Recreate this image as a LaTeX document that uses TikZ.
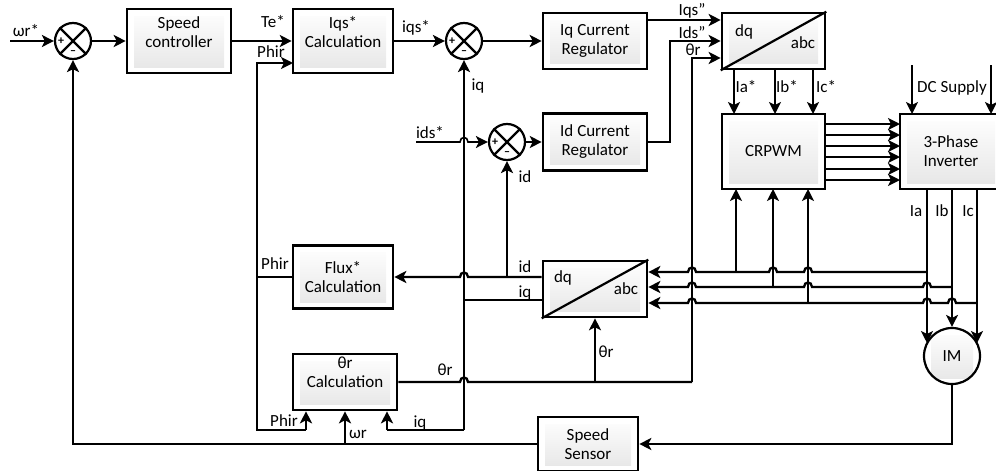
\documentclass[tikz,border=0pt]{standalone}
\usepackage{fontspec}
\setmainfont{Carlito}
\usetikzlibrary{arrows.meta,calc}
% hop of a wire running leftwards over a vertical wire at (#1,#2)
\newcommand{\hop}[2]{-- (#1+4,#2) .. controls (#1+4,#2-6) and (#1-4,#2-6) .. (#1-4,#2)}
\tikzset{
  block/.style={
    shape = rectangle,
    draw,
    line width=2.6pt,
    inner sep = 0pt,
    align=center,
    minimum width=#1,
    path picture={
      \shade[top color=white,bottom color=black!10]
        ($(path picture bounding box.north west)+(7,7)$) rectangle
        ($(path picture bounding box.south east)+(-7,-6)$);
    }
  },
  sumnode/.style={
    shape = circle,
    draw,
    fill=white,
    line width=2.2pt,
    inner sep = 0pt,
    minimum size=36pt
  },
  tag/.style={
    inner sep = 0pt,
    align=center
  },
  wire/.style={
    line width=2.3pt
  },
  thinwire/.style={
    line width=1.6pt
  },
  flow/.style={
    wire,
    -{Stealth[length=12pt,width=12pt,inset=3pt]}
  },
  thinflow/.style={
    thinwire,
    -{Stealth[length=12pt,width=12pt,inset=3pt]}
  },
  every picture/.style = {
    font=\fontsize{17}{19}\selectfont
  }
}
\begin{document}
\begin{tikzpicture}[x=1pt,y=-1pt]
  \useasboundingbox (0,0) rectangle (996,471);
  % blocks
  \node[block=104pt,minimum height=64pt] (spd) at (179,41) {};
  \node[block=100pt,minimum height=64pt] (iqc) at (343,41) {};
  \node[block=104pt,minimum height=56pt] (iqr) at (595,41) {Iq Current\\Regulator};
  \node[block=104pt,minimum height=57pt] (idr) at (595,142) {Id Current\\Regulator};
  \node[block=103pt,minimum height=56pt] (dqa) at (773.5,41) {};
  \node[block=103pt,minimum height=75pt] (pwm) at (773.5,151.5) {CRPWM};
  \node[block=102pt,minimum height=75pt] (inv) at (951,151.5) {3-Phase\\Inverter};
  \node[block=104pt,minimum height=56pt] (dqb) at (595,289) {};
  \node[block=100pt,minimum height=63pt] (flx) at (343,277) {Flux*\\Calculation};
  \node[block=104pt,minimum height=56pt] (thc) at (345,382) {};
  \node[block=100pt,minimum height=54pt] (sns) at (588,444) {Speed\\Sensor};
  \node[block=56pt,shape=circle,line width=2.2pt,minimum size=56pt] (im) at (952,356) {IM};
  \node[sumnode] (sw) at (73,41) {};
  \node[sumnode] (si) at (464,41) {};
  \node[sumnode] (sd) at (507,142) {};
  \foreach \s in {sw,si,sd}{
    \draw[line width=2.2pt] (\s.45)--(\s.225) (\s.135)--(\s.315);
    \node[tag,font=\fontsize{12}{12}\selectfont\bfseries] (\s p) at ($(\s)+(-12,0)$) {+};
    \node[tag,font=\fontsize{12}{12}\selectfont\bfseries] (\s m) at ($(\s)+(0,12)$) {--};
  }
  % block texts set above the middle
  \node[tag] (spdt) at ($(spd)+(0,-9)$) {Speed\\controller};
  \node[tag] (iqct) at ($(iqc)+(0,-9)$) {Iqs*\\Calculation};
  \node[tag] (thct) at ($(thc)+(0,-9.5)$) {θr\\Calculation};
  \draw[line width=2.2pt] (dqa.south west)--(dqa.north east);
  \draw[line width=2.2pt] (dqb.south west)--(dqb.north east);
  \node[tag] (dqa1) at (744,32) {dq};
  \node[tag] (dqa2) at (803,43) {abc};
  \node[tag] (dqb1) at (563,278) {dq};
  \node[tag] (dqb2) at (626,289) {abc};
  % free ends and corners
  \coordinate (wref) at (10,41);
  \coordinate (idsr) at (416,142);
  \coordinate (phi1) at (257,63);
  \coordinate (phi2) at (257,277);
  \coordinate (phi3) at (257,430);
  \coordinate (phi4) at (306,430);
  \coordinate (phi5) at (293,63);
  \coordinate (iqv1) at (464,300);
  \coordinate (iqv2) at (464,430);
  \coordinate (iqv3) at (387,430);
  \coordinate (thv) at (692,382);
  \coordinate (thb) at (595,382);
  \coordinate (idj) at (507,277);
  \coordinate (fbk) at (73,444);
  \coordinate (wrj) at (345,444);
  \coordinate (imj) at (952,444);
  % forward path
  \draw[flow] (wref) -- (sw);
  \draw[flow] (sw) -- (spd);
  \draw[flow,line width=1.8pt] (spd) -- (iqc);
  \draw[flow] (iqc) -- (si);
  \draw[flow] (si) -- (iqr);
  \draw[thinflow] (sd) -- (idr);
  \draw[thinwire,{Stealth[length=12pt,width=12pt,inset=3pt]}-] (sd.west) \hop{464}{142} -- (idsr);
  \draw[flow] (iqr.east |- 0,20) -- (dqa.west |- 0,20);
  \draw[flow] (idr) -- (670,142) -- (670,41) -- (dqa.west |- 0,41);
  \draw[flow] (thv) -- (692,58) -- (dqa.west |- 0,58);
  \foreach \x in {734,775,813}{
    \draw[flow] (\x,69) -- (\x,114);
  }
  \foreach \y in {124,135,146,157,169,180}{
    \draw[flow] (825,\y) -- (900,\y);
  }
  \foreach \x in {912,991}{
    \draw[thinflow] (\x,65) -- (\x,114);
  }
  % phi r
  \draw[flow] (phi2) -- (phi1) -- (phi5);
  \draw[wire] (flx) -- (phi2) -- (phi3) -- (phi4);
  \draw[flow] (phi4) -- (thc.south -| phi4);
  % id, iq
  \draw[flow] (dqb.west |- 0,277) -- (idj) \hop{464}{277} -- (flx.east);
  \draw[flow] (idj) -- (sd);
  \draw[thinwire] (dqb.west |- 0,300) -- (iqv1);
  \draw[flow] (iqv2) -- (si);
  \draw[wire] (iqv2) -- (iqv3);
  \draw[flow] (iqv3) -- (thc.south -| iqv3);
  % theta r
  \draw[wire] (thv) -- (thb) \hop{464}{382} -- (thc.east);
  \draw[flow,line width=1.8pt] (thb) -- (dqb.south -| thb);
  % measured currents
  \draw[flow] (927,272) \hop{808}{272} \hop{773}{272} \hop{692}{272} -- (dqb.east |- 0,272);
  \draw[flow] (952,287) \hop{927}{287} \hop{808}{287} \hop{692}{287} -- (dqb.east |- 0,287);
  \draw[flow] (977,303) \hop{952}{303} \hop{927}{303} \hop{692}{303} -- (dqb.east |- 0,303);
  \draw[flow] (736,272) -- (736,189);
  \draw[flow] (773,287) -- (773,189);
  \draw[flow] (808,303) -- (808,189);
  \draw[thinflow] (927,189) -- (927,343);
  \draw[thinflow] (952,189) -- (im.north);
  \draw[thinflow] (977,189) -- (977,343);
  % speed feedback
  \draw[flow] (im) -- (imj) -- (sns.east |- imj);
  \draw[flow] (sns.west |- fbk) -- (fbk) -- (sw);
  \draw[flow] (wrj) -- (thc.south -| wrj);
  % labels
  \node[tag] (lwr) at (26,31) {ωr*};
  \node[tag] (lte) at (273,22) {Te*};
  \node[tag] (lph1) at (271,52) {Phir};
  \node[tag] (liqs) at (416,28) {iqs*};
  \node[tag] (liq1) at (478,86) {iq};
  \node[tag] (lids) at (430,133) {ids*};
  \node[tag] (lid1) at (525,177) {id};
  \node[tag] (lqs2) at (692,11) {Iqs''};
  \node[tag] (lds2) at (692,33) {Ids''};
  \node[tag] (lth1) at (693,50) {θr};
  \node[tag] (lia1) at (746,87) {Ia*};
  \node[tag] (lib1) at (787,87) {Ib*};
  \node[tag] (lic1) at (826,87) {Ic*};
  \node[tag] (ldc) at (952,88) {DC Supply};
  \node[tag] (lia2) at (916,211) {Ia};
  \node[tag] (lib2) at (942,211) {Ib};
  \node[tag] (lic2) at (968,211) {Ic};
  \node[tag] (lph2) at (275,264) {Phir};
  \node[tag] (lid2) at (525,267) {id};
  \node[tag] (liq2) at (525,293) {iq};
  \node[tag] (lth2) at (445,370) {θr};
  \node[tag] (lth3) at (606,352) {θr};
  \node[tag] (lph3) at (284,421) {Phir};
  \node[tag] (lwr2) at (358,434) {ωr};
  \node[tag] (liq3) at (420,423) {iq};
\end{tikzpicture}
\end{document}
